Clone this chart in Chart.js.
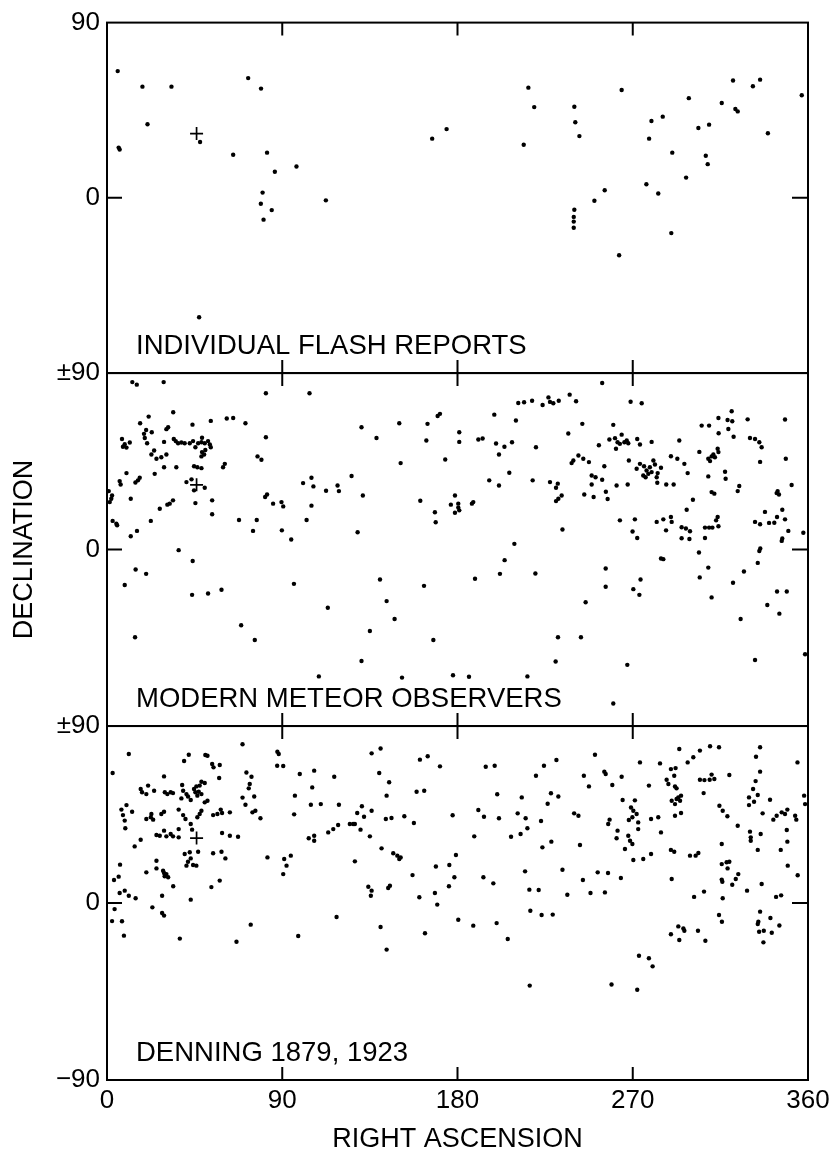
<!DOCTYPE html>
<html>
<head>
<meta charset="utf-8">
<title>Radiant distribution</title>
<script src="https://cdn.jsdelivr.net/npm/chart.js@4.4.1/dist/chart.umd.min.js"></script>
<style>
  html, body { margin: 0; padding: 0; background: #fff; }
  #wrap { width: 830px; height: 1151px; position: relative; }
</style>
</head>
<body>
<div id="wrap"><canvas id="radiantChart"></canvas></div>
<script>

// panel names (top to bottom)
const panelNames = ["INDIVIDUAL FLASH REPORTS", "MODERN METEOR OBSERVERS", "DENNING 1879, 1923"];

// axis ticks
const raTicks = [0, 90, 180, 270, 360];
const decTicks = [-90, 0, 90];

// the "+" mark, [right ascension, declination]
const radiant = [46, 33];

// [right ascension, declination] of each report
const flashReports = [
    [5.5,65.1],[6.0,25.8],[6.5,24.8],[18.2,57.1],[20.8,37.8],[33.1,57.1],[47.8,28.7],[47.3,-61.3],
    [64.8,22.1],[72.5,61.5],[79.1,56.1],[82.2,23.2],[86.2,13.4],[97.3,16.1],[79.9,2.7],[79.0,-3.0],
    [84.6,-6.3],[80.4,-11.2],[112.4,-1.3],[167.0,30.4],[174.4,35.3],[216.4,56.6],[219.4,46.6],[214.0,27.3],
    [240.0,46.8],[240.5,38.8],[242.6,31.7],[240.0,-6.1],[239.7,-9.8],[239.7,-12.2],[239.7,-15.4],[264.3,55.4],
    [263.0,-29.5],[250.3,-1.5],[255.6,3.9],[279.6,39.5],[285.4,41.7],[278.4,30.4],[290.3,23.2],[277.0,7.0],
    [283.1,2.2],[289.8,-18.1],[298.8,51.2],[297.4,10.4],[303.7,35.9],[309.2,37.6],[307.5,21.6],[308.5,17.3],
    [315.7,48.7],[321.5,60.3],[322.7,45.6],[323.9,44.4],[331.7,57.3],[335.4,60.7],[339.4,33.2],[356.8,52.7]
];

const modernObservers = [
    [13.0,85.4],[15.3,84.1],[29.1,85.4],[81.6,79.7],[104.0,79.7],[34.0,70.0],[21.4,67.8],[17.0,64.4],
    [31.4,62.4],[30.5,61.4],[43.9,63.7],[53.3,65.6],[61.5,66.8],[64.8,67.1],[71.1,64.4],[81.6,57.3],
    [20.1,61.0],[19.0,59.0],[19.4,56.9],[23.0,59.8],[7.7,56.4],[9.1,53.7],[11.7,54.6],[10.0,52.0],
    [8.2,52.4],[20.6,54.2],[29.3,54.9],[34.3,56.4],[35.3,55.3],[36.5,54.2],[38.2,54.6],[39.9,54.2],
    [42.5,54.2],[44.2,55.3],[45.4,52.2],[46.8,54.2],[48.8,57.0],[48.5,54.7],[50.2,54.2],[52.8,53.6],
    [53.3,52.2],[51.9,55.3],[48.8,49.7],[49.9,48.5],[48.5,47.5],[50.5,50.8],[24.2,50.5],[22.8,48.5],
    [25.4,46.3],[27.9,47.1],[30.5,48.5],[29.3,42.0],[35.6,42.0],[44.7,42.5],[46.4,42.0],[48.5,41.5],
    [60.5,43.7],[59.6,42.0],[77.3,47.5],[79.3,45.8],[24.5,38.6],[10.0,39.0],[6.5,34.9],[7.0,33.2],
    [15.9,35.3],[14.6,34.2],[16.8,36.6],[40.8,34.4],[43.4,35.8],[44.7,30.2],[50.2,31.5],[2.2,25.9],
    [1.4,24.2],[2.6,27.6],[0.9,29.8],[12.2,25.9],[33.9,25.1],[32.2,23.4],[31.0,22.9],[27.1,20.8],
    [45.4,23.7],[54.0,25.1],[54.0,18.0],[82.2,28.1],[81.2,26.8],[85.3,23.4],[89.6,24.2],[90.5,22.0],
    [100.7,33.9],[105.0,36.6],[106.0,32.2],[112.5,30.0],[118.4,32.7],[119.1,29.8],[105.0,22.4],[102.5,15.1],
    [2.9,14.6],[4.8,13.2],[5.2,12.4],[22.5,14.6],[15.4,9.5],[12.2,6.8],[67.8,15.1],[76.9,15.1],
    [75.0,9.5],[89.8,9.8],[94.6,5.1],[36.8,-0.3],[44.0,-5.8],[14.7,-10.2],[20.1,-12.4],[9.1,-18.1],
    [43.7,-23.1],[51.9,-22.4],[58.8,-20.5],[96.0,-17.5],[113.4,-29.7],[68.9,-38.6],[75.9,-46.1],[14.4,-44.7],
    [108.8,-64.7],
    [130.7,62.4],[138.4,56.9],[150.1,64.4],[164.6,64.1],[171.0,69.2],[169.8,68.1],[164.0,55.6],[180.9,59.8],
    [180.9,54.9],[150.8,44.1],[173.7,45.9],[190.7,56.1],[192.9,56.6],[198.9,68.8],[199.8,54.1],[204.1,52.4],
    [208.0,54.7],[201.3,48.5],[210.0,65.8],[211.2,74.7],[214.2,75.1],[218.3,75.9],[223.7,73.7],[226.7,77.6],
    [227.5,75.3],[229.2,74.6],[232.0,75.9],[237.6,79.0],[240.9,75.6],[236.9,59.2],[220.3,52.2],[238.6,44.1],
    [242.1,48.0],[239.5,45.4],[206.6,39.2],[196.3,35.3],[201.3,32.7],[218.6,35.3],[227.5,34.4],[231.5,33.6],
    [230.6,31.5],[233.5,27.6],[231.8,25.9],[230.6,24.7],[125.6,37.5],[131.4,27.6],[160.9,24.9],[168.4,19.0],
    [168.8,13.9],[178.7,27.6],[176.6,22.9],[180.4,23.4],[180.4,21.4],[178.7,18.8],[180.9,20.0],[188.1,24.2],
    [187.4,23.4],[128.7,8.8],[233.9,10.2],[209.2,2.9],[204.2,-5.4],[201.8,-12.4],[220.0,-12.2],[189.0,-14.9],
    [140.2,-15.3],[162.8,-18.5],[143.6,-26.3],[147.7,-35.4],[135.0,-41.5],[167.6,-46.1],[130.7,-56.8],[231.6,-44.7],
    [230.4,-57.1],[151.5,-65.3],[177.7,-64.1],[185.9,-64.9],[215.9,-64.7],
    [254.3,84.9],[268.9,75.4],[274.6,74.6],[244.1,64.1],[260.0,63.6],[258.0,56.1],[260.9,56.8],[262.2,54.7],
    [264.3,58.6],[263.4,53.9],[265.7,54.7],[267.7,54.2],[261.4,51.4],[266.9,55.6],[252.6,53.2],[272.3,56.4],
    [273.7,53.6],[279.7,54.9],[293.9,55.6],[305.4,63.2],[309.2,63.2],[314.0,67.1],[320.8,70.5],[318.7,66.1],
    [321.1,65.4],[319.1,61.5],[329.0,66.4],[314.1,59.3],[321.8,57.5],[330.2,56.9],[332.8,56.4],[335.0,54.7],
    [336.2,52.2],[348.2,66.3],[244.6,46.3],[247.5,44.6],[255.4,42.5],[248.9,37.8],[250.9,36.9],[254.3,35.6],
    [248.9,33.2],[245.1,28.1],[249.9,26.8],[256.2,29.5],[257.1,25.8],[261.7,32.7],[267.4,33.2],[268.0,45.4],
    [272.0,41.2],[273.7,43.7],[275.8,42.5],[277.1,40.3],[278.8,42.0],[280.6,45.4],[281.4,43.4],[279.7,39.5],
    [278.0,38.6],[275.4,37.8],[282.8,39.0],[284.5,41.7],[282.3,36.9],[282.6,34.1],[276.6,36.9],[289.6,47.6],
    [292.9,46.3],[296.5,43.7],[298.2,39.0],[287.2,33.2],[291.0,33.2],[304.2,49.8],[308.8,46.3],[310.5,47.5],
    [312.2,47.1],[314.0,49.7],[313.6,51.4],[309.7,45.1],[311.4,48.5],[308.8,37.3],[317.4,39.7],[317.7,36.1],
    [335.4,44.7],[348.6,46.3],[324.7,32.4],[323.9,29.8],[351.6,32.9],[343.9,28.8],[345.1,28.1],[344.4,29.8],
    [310.5,29.3],[311.9,28.5],[300.9,25.4],[297.7,20.3],[263.4,14.9],[271.1,15.4],[269.9,9.2],[272.3,5.9],
    [282.3,14.1],[285.7,15.4],[289.6,16.6],[290.0,14.1],[287.1,9.8],[295.1,11.4],[297.3,10.7],[299.4,9.3],
    [295.1,5.8],[299.1,5.4],[307.1,11.2],[309.2,11.2],[310.9,11.2],[307.1,5.9],[314.0,11.9],[313.6,16.6],
    [312.8,14.9],[304.0,-1.5],[284.5,-4.6],[285.7,-4.9],[256.1,-9.7],[256.1,-19.0],[274.0,-15.3],[270.3,-20.2],
    [273.4,-23.1],[245.8,-26.9],[243.4,-44.7],[267.2,-58.8],[260.0,-78.5],[308.8,-9.2],[304.4,-14.2],[310.5,-24.4],
    [321.5,-16.9],[327.1,-11.2],[325.4,-35.4],[332.8,14.1],[335.4,12.9],[337.9,19.2],[340.0,13.6],[342.7,13.7],
    [344.1,16.6],[346.8,20.3],[348.2,15.4],[349.9,9.5],[346.8,5.6],[346.5,4.4],[357.6,8.6],[335.5,0.5],
    [335.0,-0.7],[334.2,-6.8],[344.1,-21.4],[349.1,-21.4],[339.1,-28.3],[345.3,-32.7],[332.8,-56.3],[358.5,-53.4]
];

const denning = [
    [2.9,66.1],[11.2,75.8],[69.6,80.7],[87.5,76.9],[88.2,75.8],[87.4,69.8],[90.5,69.7],[42.0,75.4],
    [39.6,72.2],[50.5,75.3],[51.6,74.9],[54.0,70.7],[54.7,69.0],[57.9,70.2],[57.6,63.6],[29.3,64.4],
    [71.6,66.4],[74.2,64.2],[73.3,60.5],[72.8,58.3],[69.6,53.6],[75.6,54.2],[71.1,50.0],[74.7,46.1],
    [76.2,46.9],[78.8,43.1],[99.0,65.6],[106.4,67.3],[116.7,64.2],[96.5,54.6],[105.4,58.8],[96.1,45.1],
    [104.7,50.0],[109.8,50.3],[119.1,50.0],[103.6,32.9],[106.4,34.2],[106.4,31.7],[113.6,35.9],[116.2,37.6],
    [118.7,39.7],[17.3,58.0],[18.0,56.3],[20.2,55.4],[21.1,59.7],[24.2,57.1],[29.7,56.3],[31.0,55.4],
    [32.7,56.3],[33.9,55.9],[38.6,60.0],[39.1,57.1],[40.8,55.4],[41.6,54.2],[43.0,52.4],[38.2,53.2],
    [44.7,58.0],[45.9,59.3],[47.1,56.6],[48.5,55.4],[46.4,54.6],[45.4,56.3],[48.5,61.7],[50.2,61.0],
    [47.6,59.7],[51.6,52.0],[50.2,51.2],[7.4,47.5],[8.2,44.7],[9.1,41.9],[9.4,38.0],[10.0,49.8],
    [12.9,46.4],[20.2,42.7],[22.5,43.6],[23.7,42.4],[22.8,45.3],[27.9,45.3],[29.3,46.4],[36.8,47.5],
    [39.1,44.7],[40.3,42.7],[47.6,45.3],[48.5,46.9],[46.4,43.6],[54.5,44.7],[56.7,45.3],[58.4,47.5],
    [59.1,45.8],[63.1,46.1],[25.4,34.6],[27.1,34.2],[29.3,36.8],[30.5,33.9],[32.7,35.1],[33.9,33.9],
    [36.8,37.6],[36.8,33.4],[43.0,40.2],[43.7,37.3],[14.2,28.8],[17.3,32.2],[59.1,35.6],[63.1,34.2],
    [67.3,33.7],[39.9,24.9],[42.5,25.8],[46.8,26.1],[43.0,22.7],[40.8,19.0],[44.2,19.3],[45.9,19.0],
    [41.6,21.0],[54.5,25.3],[58.8,26.1],[60.8,22.7],[82.4,23.2],[91.0,22.4],[94.4,24.1],[92.2,19.0],
    [90.5,14.7],[6.7,19.5],[6.0,13.4],[3.6,11.7],[25.4,21.5],[25.4,17.6],[20.2,15.6],[28.8,16.4],
    [30.5,14.7],[29.6,13.6],[31.4,13.1],[29.3,15.3],[34.0,8.5],[57.9,11.4],[53.6,8.1],[6.5,5.1],
    [9.1,6.3],[11.2,3.7],[14.7,2.4],[43.0,1.7],[28.3,3.7],[3.9,-3.1],[23.3,-2.2],[28.3,-5.1],
    [29.3,-6.4],[2.6,-9.2],[7.7,-9.3],[8.7,-16.6],[37.4,-18.1],[73.8,-11.0],[66.5,-19.7],[98.2,-16.8],
    [117.9,-7.1],
    [135.9,76.1],[140.5,78.6],[139.8,66.1],[144.9,61.4],[143.6,54.6],[160.7,72.9],[164.7,74.6],[171.0,69.5],
    [159.0,56.6],[162.9,57.1],[194.5,69.3],[199.1,69.8],[200.4,55.3],[220.3,64.7],[224.4,69.8],[230.8,72.7],
    [213.0,53.7],[228.0,55.8],[231.8,54.2],[226.3,50.5],[128.5,45.8],[130.9,49.2],[132.0,43.9],[135.9,46.9],
    [124.7,40.2],[126.4,40.2],[127.3,40.2],[130.2,37.3],[135.0,33.9],[143.2,42.7],[146.1,43.2],[152.7,44.1],
    [157.6,40.7],[177.5,44.6],[190.7,47.3],[193.6,43.9],[201.3,43.1],[188.6,33.9],[210.9,45.6],[215.0,43.1],
    [215.9,38.0],[212.4,35.1],[207.5,33.7],[222.9,41.7],[223.6,28.3],[228.2,31.2],[239.9,45.6],[242.1,44.4],
    [242.9,29.5],[127.3,21.2],[141.0,27.8],[147.0,25.3],[149.1,24.1],[150.1,22.4],[150.8,23.2],[156.9,14.2],
    [168.9,18.6],[175.8,19.3],[179.2,24.4],[178.4,13.1],[175.6,8.5],[134.2,8.3],[135.9,6.3],[135.5,3.7],
    [144.4,7.6],[145.3,8.8],[160.4,2.9],[168.4,5.1],[169.6,-0.8],[193.3,13.1],[198.4,10.0],[214.7,16.1],
    [216.9,6.8],[221.7,6.6],[233.9,16.9],[236.4,4.2],[140.5,-12.2],[143.6,-23.7],[163.3,-15.4],[180.4,-8.5],
    [188.1,-11.5],[200.1,-10.2],[205.8,-18.3],[217.4,-3.9],[223.2,-6.1],[228.9,-5.9],[217.1,-42.0],
    [250.6,75.4],[244.9,64.7],[247.5,59.3],[255.4,66.8],[256.1,65.6],[259.5,60.0],[264.3,64.2],[273.7,71.5],
    [278.3,59.7],[264.8,52.4],[271.1,52.2],[269.1,48.6],[270.3,46.9],[272.0,45.3],[268.0,42.2],[269.8,43.6],
    [272.8,41.0],[272.8,37.6],[267.7,34.2],[268.6,31.7],[269.8,30.0],[266.0,27.5],[270.3,21.9],[262.2,36.8],
    [261.7,32.9],[257.4,40.2],[258.1,42.4],[279.4,42.7],[283.1,43.6],[284.5,35.9],[275.4,22.4],[279.4,24.9],
    [284.0,71.0],[289.6,68.1],[292.0,68.6],[291.3,64.7],[287.4,62.7],[288.3,60.5],[291.7,59.3],[292.5,58.3],
    [293.9,78.3],[298.2,71.5],[301.1,74.1],[304.5,77.5],[309.7,79.7],[314.3,79.2],[290.0,52.0],[291.7,50.3],
    [293.4,53.7],[294.8,54.6],[294.3,52.0],[292.5,52.9],[291.7,44.4],[294.8,45.8],[289.6,27.0],[291.3,26.1],
    [290.0,12.2],[304.5,62.7],[306.8,62.5],[309.5,62.7],[310.5,65.3],[311.9,63.1],[306.4,55.9],[319.6,65.1],
    [314.5,49.5],[316.2,46.9],[318.6,44.1],[323.9,39.3],[315.7,30.0],[299.4,24.1],[302.3,24.1],[303.7,25.4],
    [315.7,19.8],[318.2,20.7],[319.6,21.0],[318.7,17.6],[315.7,11.9],[316.0,10.8],[324.2,14.7],[322.9,12.2],
    [321.1,9.3],[301.5,3.1],[306.6,5.8],[316.2,2.4],[328.7,6.3],[336.2,9.7],[314.3,-6.1],[315.8,-9.5],
    [335.4,79.2],[333.3,74.4],[335.4,66.8],[333.1,62.0],[331.8,58.0],[334.2,54.9],[329.7,53.7],[332.3,51.5],
    [329.7,49.8],[340.5,52.5],[336.7,45.6],[354.6,71.5],[358.0,54.6],[358.5,50.3],[342.2,42.4],[343.9,44.4],
    [346.5,46.1],[348.2,45.3],[349.4,47.5],[353.4,44.4],[354.0,42.4],[330.2,36.3],[330.6,33.4],[330.6,31.7],
    [335.7,35.1],[334.2,27.0],[349.1,37.1],[349.4,31.2],[346.0,27.0],[349.6,19.0],[354.7,14.1],[343.6,3.1],
    [346.2,3.9],[335.4,-4.4],[334.5,-9.5],[334.2,-10.7],[334.9,-14.6],[337.3,-14.1],[337.1,-20.0],[340.7,-7.6],
    [341.4,-15.1],[345.3,-11.4],[289.6,-15.9],[293.4,-11.9],[296.0,-12.9],[296.5,-14.1],[293.9,-18.8],[303.5,-14.1],
    [307.3,-19.2],[244.4,11.7],[248.3,5.1],[252.0,15.6],[257.3,15.3],[255.7,5.4],[263.9,12.7],[273.2,-26.8],
    [278.3,-28.1],[280.2,-32.2],[259.1,-41.4],[272.3,-44.1]
];

const FONT = "'Liberation Sans', Arial, Helvetica, sans-serif";
const panels = [flashReports, modernObservers, denning];
const axisIds = ["yTop", "yMid", "yBot"];
const panelWeights = [351, 353.5, 354.5];

// which tick labels show on each panel (boundaries share one "±90")
function decLabel(panel, v) {
    if (v === 0) return "0";
    if (v === 90) return panel === 0 ? "90" : "\u00b190";
    if (v === -90 && panel === 2) return "\u221290";
    return "";
}

function makeYScale(i) {
    return {
        type: "linear",
        position: "left",
        stack: "dec",
        stackWeight: panelWeights[i],
        min: -90,
        max: 90,
        afterBuildTicks: function (s) { s.ticks = decTicks.map(v => ({ value: v })); },
        afterFit: function (s) { s.width = 107; },
        grid: { display: false, drawTicks: false },
        border: { display: false },
        ticks: {
            color: "#000",
            font: { family: FONT, size: 26 },
            padding: 7,
            autoSkip: false,
            callback: function (v) { return decLabel(i, v); }
        },
        title: {
            display: i === 1,
            text: "DECLINATION",
            color: "#000",
            font: { family: FONT, size: 27 },
            padding: { top: 8, bottom: 0 }
        }
    };
}

const datasets = [];
panels.forEach(function (pts, i) {
    datasets.push({
        label: panelNames[i],
        yAxisID: axisIds[i],
        data: pts.map(p => ({ x: p[0], y: p[1] })),
        pointRadius: 2.2,
        pointBackgroundColor: "#000",
        pointBorderWidth: 0,
        showLine: false
    });
    datasets.push({
        label: "radiant",
        yAxisID: axisIds[i],
        data: [{ x: radiant[0], y: radiant[1] }],
        pointStyle: "cross",
        pointRadius: 6.5,
        pointBorderColor: "#000",
        pointBorderWidth: 1.7,
        showLine: false
    });
});

// frame, inward ticks and panel captions
const framePlugin = {
    id: "frame",
    afterDraw(chart) {
        const ctx = chart.ctx;
        const area = chart.chartArea;
        const xs = chart.scales.x;
        ctx.save();
        ctx.strokeStyle = "#000";
        ctx.fillStyle = "#000";
        ctx.lineWidth = 2;
        axisIds.forEach(function (id, i) {
            const s = chart.scales[id];
            ctx.strokeRect(area.left, s.top, area.right - area.left, s.bottom - s.top);
            ctx.beginPath();
            raTicks.slice(1, -1).forEach(function (v) {
                const px = xs.getPixelForValue(v);
                ctx.moveTo(px, s.top);
                ctx.lineTo(px, s.top + 13);
                ctx.moveTo(px, s.bottom);
                ctx.lineTo(px, s.bottom - 13);
            });
            const y0 = s.getPixelForValue(0);
            ctx.moveTo(area.left, y0);
            ctx.lineTo(area.left + 15, y0);
            ctx.moveTo(area.right, y0);
            ctx.lineTo(area.right - 16, y0);
            ctx.stroke();

            ctx.font = "27.5px " + FONT;
            ctx.textBaseline = "alphabetic";
            ctx.textAlign = "left";
            ctx.fillText(panelNames[i], area.left + 29, s.bottom - 19.5);
        });
        ctx.restore();
    }
};

const scales = {
    x: {
        type: "linear",
        position: "bottom",
        min: 0,
        max: 360,
        afterBuildTicks: function (s) { s.ticks = raTicks.map(v => ({ value: v })); },
        afterFit: function (s) {
            s.height = 71;
            s.paddingLeft = 0;
            s.paddingRight = 0;
        },
        grid: { display: false, drawTicks: false },
        border: { display: false },
        ticks: {
            color: "#000",
            font: { family: FONT, size: 26 },
            padding: 5,
            maxRotation: 0,
            autoSkip: false
        },
        title: {
            display: true,
            text: "RIGHT ASCENSION",
            color: "#000",
            font: { family: FONT, size: 27 },
            padding: { top: 0, bottom: -5 }
        }
    }
};
// last defined scale in a left stack ends up on top
scales.yBot = makeYScale(2);
scales.yMid = makeYScale(1);
scales.yTop = makeYScale(0);

new Chart(document.getElementById("radiantChart"), {
    type: "scatter",
    data: { datasets: datasets },
    options: {
        responsive: true,
        maintainAspectRatio: false,
        animation: false,
        layout: { padding: { top: 21, right: 22, bottom: 0, left: 0 } },
        scales: scales,
        plugins: {
            legend: { display: false },
            tooltip: { enabled: false }
        }
    },
    plugins: [framePlugin]
});
</script>
</body>
</html>
